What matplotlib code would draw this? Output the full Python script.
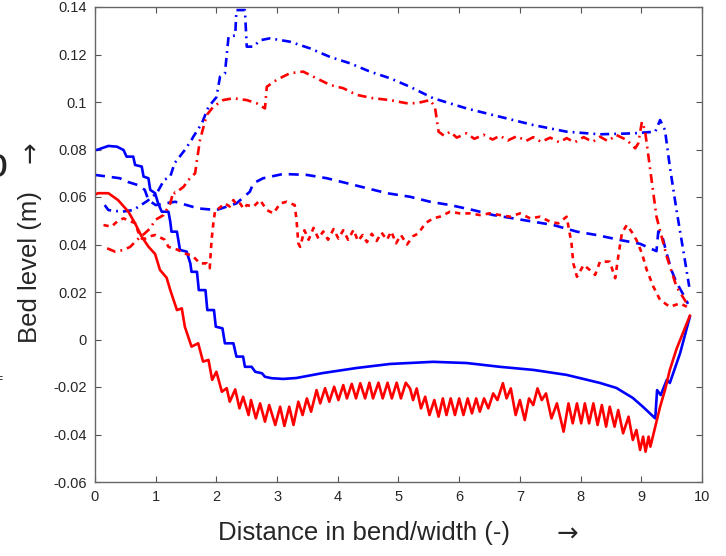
import matplotlib
matplotlib.use("Agg")
import matplotlib.pyplot as plt

plt.rcParams['font.family'] = ['Liberation Sans', 'DejaVu Sans']

# blue solid
bs_x = [0.0, 0.03, 0.22, 0.36, 0.47, 0.52, 0.63, 0.66, 0.77, 0.80, 0.88, 0.91, 0.99, 1.04, 1.10,
        1.21, 1.24, 1.26, 1.35, 1.40, 1.51, 1.57, 1.59, 1.68, 1.71, 1.82, 1.85, 1.96, 1.99, 2.10,
        2.14, 2.28, 2.33, 2.44, 2.47, 2.58, 2.64, 2.75, 2.80, 2.91, 3.10, 3.32, 3.76, 4.31, 4.86,
        5.57, 6.12, 6.67, 7.22, 7.77, 8.32, 8.59, 8.86, 9.03, 9.20, 9.23, 9.26, 9.32, 9.42, 9.47,
        9.64, 9.80]
bs_y = [0.0800, 0.0798, 0.0815, 0.0812, 0.0798, 0.0770, 0.0770, 0.0735, 0.0728, 0.0686, 0.0679,
        0.0630, 0.0616, 0.0573, 0.0538, 0.0538, 0.0496, 0.0454, 0.0454, 0.0377, 0.0370, 0.0321,
        0.0285, 0.0285, 0.0208, 0.0208, 0.0124, 0.0124, 0.0054, 0.0047, -0.0016, -0.0016, -0.0072,
        -0.0072, -0.0115, -0.0115, -0.0136, -0.0142, -0.0157, -0.0163, -0.0166, -0.0162, -0.0141,
        -0.0120, -0.0103, -0.0094, -0.0099, -0.0115, -0.0128, -0.0149, -0.0183, -0.0204, -0.0246,
        -0.0284, -0.0325, -0.0332, -0.0213, -0.0234, -0.0170, -0.0183, -0.0057, 0.0096]

# red solid
rs_x = [0.0, 0.05, 0.22, 0.38, 0.55, 0.66, 0.77, 0.88, 0.99, 1.07, 1.18, 1.24, 1.35, 1.43, 1.48,
        1.59, 1.70, 1.78, 1.87, 1.93, 2.00, 2.09, 2.17, 2.22, 2.31, 2.38, 2.44, 2.53, 2.57, 2.65,
        2.72, 2.80, 2.87, 2.97, 3.05, 3.12, 3.20, 3.27, 3.35, 3.42, 3.49, 3.56, 3.65, 3.71, 3.79,
        3.86, 3.94, 4.01, 4.09, 4.15, 4.23, 4.30, 4.37, 4.45, 4.52, 4.58, 4.67, 4.74, 4.82, 4.89,
        4.97, 5.04, 5.12, 5.19, 5.24, 5.30, 5.37, 5.44, 5.51, 5.59, 5.66, 5.73, 5.79, 5.86, 5.93,
        6.00, 6.07, 6.14, 6.21, 6.28, 6.34, 6.41, 6.48, 6.56, 6.63, 6.72, 6.78, 6.85, 6.93, 7.00,
        7.08, 7.15, 7.22, 7.29, 7.36, 7.43, 7.52, 7.61, 7.72, 7.80, 7.87, 7.94, 8.01, 8.07, 8.14,
        8.21, 8.28, 8.35, 8.42, 8.48, 8.56, 8.62, 8.70, 8.79, 8.86, 8.92, 8.98, 9.03, 9.07, 9.12,
        9.15, 9.23, 9.31, 9.39, 9.47, 9.58, 9.69, 9.80]
rs_y = [0.0610, 0.0616, 0.0616, 0.0587, 0.0538, 0.0489, 0.0433, 0.0391, 0.0360, 0.0293, 0.0260,
        0.0208, 0.0124, 0.0131, 0.0054, -0.0030, -0.0016, -0.0093, -0.0086, -0.0170, -0.0136,
        -0.0220, -0.0205, -0.0262, -0.0210, -0.0290, -0.0241, -0.0318, -0.0255, -0.0332, -0.0269,
        -0.0346, -0.0276, -0.0360, -0.0283, -0.0364, -0.0283, -0.0360, -0.0262, -0.0318, -0.0248,
        -0.0304, -0.0213, -0.0269, -0.0205, -0.0262, -0.0199, -0.0255, -0.0192, -0.0248, -0.0187,
        -0.0248, -0.0184, -0.0248, -0.0182, -0.0248, -0.0182, -0.0248, -0.0182, -0.0248, -0.0182,
        -0.0248, -0.0182, -0.0206, -0.0255, -0.0206, -0.0290, -0.0241, -0.0318, -0.0255, -0.0325,
        -0.0248, -0.0318, -0.0248, -0.0318, -0.0248, -0.0318, -0.0248, -0.0311, -0.0248, -0.0304,
        -0.0248, -0.0290, -0.0227, -0.0255, -0.0184, -0.0248, -0.0206, -0.0318, -0.0255, -0.0339,
        -0.0248, -0.0276, -0.0206, -0.0255, -0.0227, -0.0332, -0.0269, -0.0388, -0.0269, -0.0353,
        -0.0269, -0.0353, -0.0269, -0.0353, -0.0269, -0.0360, -0.0276, -0.0367, -0.0283, -0.0367,
        -0.0297, -0.0395, -0.0325, -0.0423, -0.0381, -0.0465, -0.0409, -0.0472, -0.0409, -0.0451,
        -0.0367, -0.0283, -0.0213, -0.0128, -0.0040, 0.0030, 0.0100]

# blue dashed
bd_x = [0.0, 0.41, 0.52, 0.71, 0.82, 0.88, 1.00, 1.32, 1.70, 2.00, 2.33, 2.55, 2.61, 2.77, 3.10,
        3.49, 3.82, 4.15, 4.48, 4.81, 5.19, 5.52, 5.85, 6.23, 6.56, 6.89, 7.22, 7.55, 7.94, 8.26,
        8.65, 8.98, 9.25, 9.28, 9.33, 9.42, 9.50, 9.58, 9.69, 9.77]
bd_y = [0.0693, 0.0679, 0.0665, 0.0650, 0.0630, 0.0587, 0.0566, 0.0580, 0.0552, 0.0545, 0.0573,
        0.0622, 0.0658, 0.0679, 0.0697, 0.0693, 0.0679, 0.0658, 0.0637, 0.0616, 0.0601, 0.0580,
        0.0566, 0.0545, 0.0524, 0.0510, 0.0496, 0.0482, 0.0454, 0.0440, 0.0419, 0.0403, 0.0372,
        0.0455, 0.0450, 0.0360, 0.0290, 0.0240, 0.0190, 0.0150]

# blue dash-dot
bdd_x = [0.16, 0.22, 0.44, 0.63, 0.86, 1.02, 1.14, 1.24, 1.31, 1.48, 1.59, 1.62, 1.76, 1.87, 2.00,
         2.06, 2.14, 2.20, 2.31, 2.33, 2.47, 2.50, 2.61, 2.72, 2.88, 3.21, 3.54, 3.87, 4.20, 4.53,
         4.86, 5.19, 5.57, 6.12, 6.67, 7.22, 7.77, 8.32, 8.87, 9.23, 9.31, 9.39, 9.47, 9.58, 9.69,
         9.79]
bdd_y = [0.0566, 0.0545, 0.0538, 0.0545, 0.0583, 0.0617, 0.0672, 0.0686, 0.0742, 0.0798, 0.0840,
         0.0854, 0.0910, 0.0980, 0.1020, 0.1107, 0.1120, 0.1275, 0.1280, 0.1387, 0.1387, 0.1233,
         0.1233, 0.1260, 0.1268, 0.1254, 0.1226, 0.1190, 0.1163, 0.1128, 0.1100, 0.1064, 0.1016,
         0.0973, 0.0938, 0.0903, 0.0875, 0.0864, 0.0868, 0.0875, 0.0924, 0.0882, 0.0728, 0.0545,
         0.0377, 0.0222]

# red dotted (middle)
rd_x = [0.14, 0.27, 0.38, 0.47, 0.66, 0.71, 0.77, 0.83, 0.93, 0.99, 1.15, 1.21, 1.37, 1.46, 1.57,
        1.62, 1.73, 1.84, 1.89, 1.92, 1.95, 1.98, 2.03, 2.14, 2.22, 2.28, 2.34, 2.39, 2.45, 2.50,
        2.61, 2.72, 2.83, 2.94, 3.05, 3.16, 3.29, 3.32, 3.35, 3.38, 3.45, 3.52, 3.60, 3.68, 3.76,
        3.84, 3.93, 4.01, 4.09, 4.17, 4.26, 4.33, 4.41, 4.48, 4.56, 4.64, 4.72, 4.81, 4.88, 4.96,
        5.04, 5.14, 5.24, 5.33, 5.44, 5.57, 5.68, 5.85, 6.01, 6.18, 6.34, 6.51, 6.67, 6.84, 7.00,
        7.17, 7.33, 7.50, 7.63, 7.77, 7.80, 7.85, 7.88, 7.94, 8.05, 8.15, 8.24, 8.32, 8.48, 8.57,
        8.62, 8.68, 8.76, 8.84, 8.92, 9.01, 9.09, 9.20, 9.31, 9.47, 9.64, 9.75]
rd_y = [0.0482, 0.0475, 0.0500, 0.0510, 0.0490, 0.0454, 0.0425, 0.0425, 0.0436, 0.0440, 0.0420,
        0.0390, 0.0377, 0.0363, 0.0356, 0.0349, 0.0320, 0.0321, 0.0300, 0.0419, 0.0490, 0.0545,
        0.0550, 0.0573, 0.0560, 0.0587, 0.0566, 0.0573, 0.0550, 0.0566, 0.0559, 0.0587, 0.0545,
        0.0531, 0.0573, 0.0580, 0.0566, 0.0503, 0.0405, 0.0390, 0.0460, 0.0420, 0.0470, 0.0425,
        0.0455, 0.0420, 0.0465, 0.0425, 0.0460, 0.0420, 0.0462, 0.0415, 0.0440, 0.0410, 0.0445,
        0.0415, 0.0450, 0.0420, 0.0455, 0.0405, 0.0440, 0.0400, 0.0435, 0.0447, 0.0489, 0.0510,
        0.0517, 0.0538, 0.0531, 0.0531, 0.0524, 0.0531, 0.0524, 0.0517, 0.0531, 0.0510, 0.0517,
        0.0496, 0.0489, 0.0517, 0.0475, 0.0405, 0.0321, 0.0264, 0.0314, 0.0293, 0.0272, 0.0328,
        0.0328, 0.0258, 0.0349, 0.0447, 0.0482, 0.0454, 0.0419, 0.0363, 0.0293, 0.0222, 0.0166,
        0.0138, 0.0152, 0.0138]

# red dash-dot (upper)
rdd_x = [0.20, 0.33, 0.47, 0.58, 0.69, 0.82, 0.91, 0.99, 1.13, 1.24, 1.29, 1.32, 1.46, 1.54, 1.65,
         1.68, 1.73, 1.84, 1.95, 2.11, 2.28, 2.50, 2.66, 2.80, 2.83, 2.99, 3.21, 3.43, 3.65, 3.87,
         4.09, 4.31, 4.58, 4.86, 5.13, 5.30, 5.52, 5.60, 5.66, 5.75, 5.85, 5.96, 6.12, 6.25, 6.40,
         6.55, 6.67, 6.80, 6.95, 7.10, 7.22, 7.35, 7.50, 7.65, 7.77, 7.90, 8.05, 8.20, 8.32, 8.45,
         8.59, 8.76, 8.90, 8.95, 9.01, 9.06, 9.14, 9.25, 9.42, 9.58, 9.75]
rdd_y = [0.0384, 0.0370, 0.0377, 0.0390, 0.0419, 0.0447, 0.0468, 0.0503, 0.0524, 0.0573, 0.0622,
         0.0616, 0.0643, 0.0672, 0.0700, 0.0756, 0.0840, 0.0945, 0.0980, 0.1008, 0.1016, 0.1008,
         0.0995, 0.0973, 0.1064, 0.1093, 0.1121, 0.1128, 0.1100, 0.1072, 0.1058, 0.1030, 0.1016,
         0.1008, 0.0995, 0.0995, 0.1008, 0.0980, 0.0875, 0.0858, 0.0875, 0.0850, 0.0868, 0.0845,
         0.0862, 0.0842, 0.0858, 0.0838, 0.0856, 0.0836, 0.0852, 0.0832, 0.0850, 0.0830, 0.0848,
         0.0830, 0.0852, 0.0832, 0.0854, 0.0835, 0.0861, 0.0840, 0.0805, 0.0826, 0.0917, 0.0882,
         0.0728, 0.0517, 0.0349, 0.0222, 0.0152]

xticks = list(range(0, 11))
yticks = [-0.06, -0.04, -0.02, 0, 0.02, 0.04, 0.06, 0.08, 0.1, 0.12, 0.14]
ytick_labels = ['-0.06', '-0.04', '-0.02', '0', '0.02', '0.04', '0.06', '0.08', '0.1', '0.12', '0.14']

fig = plt.figure(figsize=(7.26, 5.56), dpi=100)
ax = fig.add_axes([95 / 726, 74 / 556, 607 / 726, 475 / 556])

lw = 1.9
ax.plot(bs_x, bs_y, color='#0000ff', lw=lw, solid_joinstyle='round')
ax.plot(bd_x, bd_y, color='#0000ff', lw=lw, dashes=(3.8, 2.6))
ax.plot(bdd_x, bdd_y, color='#0000ff', lw=lw, dashes=(3.4, 1.9, 0.7, 1.9))
ax.plot(rs_x, rs_y, color='#ff0000', lw=lw, solid_joinstyle='round')
ax.plot(rd_x, rd_y, color='#ff0000', lw=lw, dashes=(2.0, 1.9))
ax.plot(rdd_x, rdd_y, color='#ff0000', lw=lw, dashes=(3.4, 1.9, 0.7, 1.9))

ax.set_xlim(0, 10)
ax.set_ylim(-0.06, 0.14)
ax.set_xticks(xticks)
ax.set_xticklabels([str(t) for t in xticks])
ax.set_yticks(yticks)
ax.set_yticklabels(ytick_labels)
ax.tick_params(direction='in', length=4, width=0.8, top=True, right=True,
               labelsize=10.5, labelcolor='#262626', color='#555555', pad=6)
for s in ax.spines.values():
    s.set_color('#666666')
    s.set_linewidth(1.0)

# axis labels, with the arrows drawn separately in DejaVu Sans (larger glyph)
fig.text(218 / 726, (556 - 533) / 556, 'Distance in bend/width (-)', fontsize=18.5,
         color='#262626', ha='left', va='center')
fig.text(567 / 726, (556 - 535) / 556, '\u2192', fontsize=18.5, family='DejaVu Sans',
         color='#262626', ha='center', va='center')
fig.text(30 / 726, (556 - 267) / 556, 'Bed level (m)', fontsize=18.5, rotation=90,
         color='#262626', ha='center', va='center')
fig.text(31 / 726, (556 - 152) / 556, '\u2192', fontsize=18.5, family='DejaVu Sans',
         rotation=90, color='#262626', ha='center', va='center')

# pieces of neighbouring text cut off at the left edge
fig.text(-0.022, 0.682, 'o', fontsize=30, color='#262626')
fig.text(-0.006, (556 - 379) / 556, '=', fontsize=9, color='#262626', va='center')

fig.savefig('out.png', dpi=100)
